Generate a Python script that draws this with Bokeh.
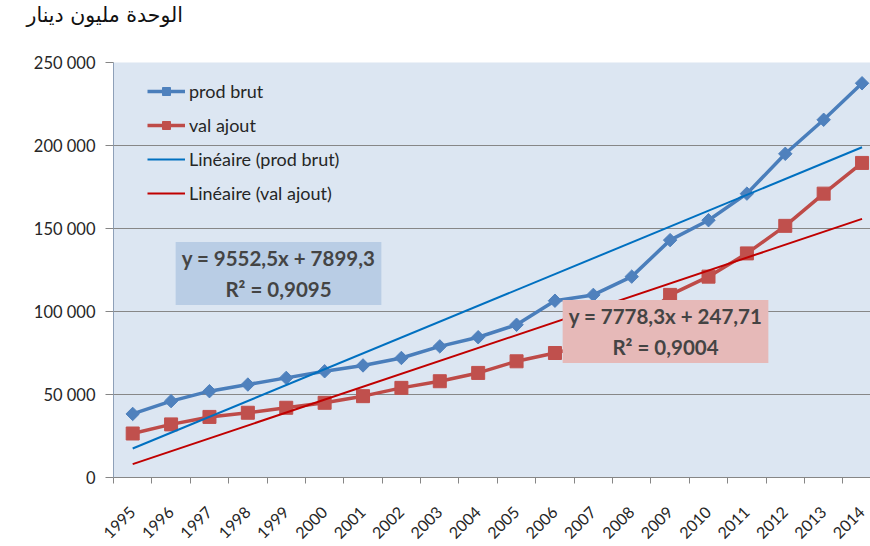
from bokeh.plotting import figure
from bokeh.models import Range1d, FixedTicker, Label, Legend, LegendItem
from bokeh.embed import file_html
from bokeh.resources import INLINE

# ---- data ----
years = list(range(1995, 2015))
prod_brut = [38300, 46000, 52000, 56000, 60000, 64000, 67500, 72000, 79000, 84500,
             92000, 106500, 110000, 121000, 143000, 155000, 171000, 195000, 215500, 237500]
val_ajout = [26500, 32000, 36500, 39000, 42000, 45000, 49000, 54000, 58000, 63000,
             70000, 75000, 80500, 90000, 110000, 121000, 135000, 151600, 171000, 189500]
trend_prod = (9552.5, 7899.3)      # slope, intercept (x = 1..20)
trend_val = (7778.3, 247.71)
y_ticks = [0, 50000, 100000, 150000, 200000, 250000]
y_tick_labels = ["0", "50 000", "100 000", "150 000", "200 000", "250 000"]
series_names = ["prod brut", "val ajout", "Linéaire (prod brut)", "Linéaire (val ajout)"]
eq_prod = "y = 9552,5x + 7899,3\nR² = 0,9095"
eq_val = "y = 7778,3x + 247,71\nR² = 0,9004"
title_text = "الوحدة مليون دينار"

FONT = "Lato"
BLUE, BLUE_M = "#4A7EBB", "#4F81BD"
RED, RED_M = "#BE4B48", "#C0504D"
TBLUE, TRED = "#0070C0", "#C00000"

p = figure(width=870, height=546, output_backend="svg", toolbar_location=None,
           x_range=Range1d(1994.5, 2014.22), y_range=Range1d(0, 250000),
           min_border_left=113, min_border_right=0, min_border_top=62, min_border_bottom=68)
p.background_fill_color = "#DCE6F2"
p.border_fill_color = "white"
p.outline_line_color = None

# title (second blank line lifts it towards the top of the page)
p.title.text = title_text + "\n\u00a0"
p.title.align = "left"
p.title.offset = -87
p.title.standoff = 0
p.title.text_line_height = 1.5
p.title.text_font = "DejaVu Sans"
p.title.text_font_size = "20.5px"
p.title.text_font_style = "normal"
p.title.text_color = "#111111"

# axes
xa = p.xaxis[0]
xa.ticker = FixedTicker(ticks=years, minor_ticks=[y - 0.5 for y in years] + [2014.5])
xa.major_tick_out = 0
xa.major_tick_in = 0
xa.minor_tick_out = 6
xa.minor_tick_in = 0
xa.minor_tick_line_color = "#868686"
xa.axis_line_color = "#868686"
xa.major_label_orientation = 0.785398
xa.major_label_standoff = 26
xa.major_label_text_font = FONT
xa.major_label_text_font_size = "16px"
xa.major_label_text_color = "#262626"

ya = p.yaxis[0]
ya.ticker = FixedTicker(ticks=y_ticks)
ya.major_label_overrides = {t: l for t, l in zip(y_ticks, y_tick_labels)}
ya.major_tick_out = 8
ya.major_tick_in = 0
ya.minor_tick_line_color = None
ya.major_tick_line_color = "#868686"
ya.axis_line_color = "#8EA0B8"
ya.major_label_standoff = 10
ya.major_label_text_font = FONT
ya.major_label_text_font_size = "16.5px"
ya.major_label_text_color = "#262626"

p.xgrid.visible = False
p.ygrid.ticker = FixedTicker(ticks=y_ticks)
p.ygrid.grid_line_color = "#878787"
p.ygrid.grid_line_width = 1.2

# trend lines (from the displayed equations)
xs_idx = [years[0], years[-1]]
tp = [trend_prod[0] * n + trend_prod[1] for n in (1, len(years))]
tv = [trend_val[0] * n + trend_val[1] for n in (1, len(years))]

# series
l1 = p.line(years, prod_brut, line_color=BLUE, line_width=3.5)
m1 = p.scatter(years, prod_brut, marker="square", angle=0.785398, size=9.5,
               fill_color=BLUE_M, line_color=BLUE_M)
l2 = p.line(years, val_ajout, line_color=RED, line_width=3.5)
m2 = p.scatter(years, val_ajout, marker="square", size=13, fill_color=RED_M, line_color=RED_M)
t1 = p.line(xs_idx, tp, line_color=TBLUE, line_width=2)
t2 = p.line(xs_idx, tv, line_color=TRED, line_width=2)

legend = Legend(items=[
    LegendItem(label=series_names[0], renderers=[l1, m1]),
    LegendItem(label=series_names[1], renderers=[l2, m2]),
    LegendItem(label=series_names[2], renderers=[t1]),
    LegendItem(label=series_names[3], renderers=[t2]),
], location=(34, 273))
legend.padding = 0
legend.margin = 0
legend.spacing = 12
legend.glyph_height = 20
legend.label_height = 20
legend.glyph_width = 38
legend.label_standoff = 4
legend.border_line_color = None
legend.background_fill_alpha = 0
legend.label_text_font = FONT
legend.label_text_font_size = "18px"
legend.label_text_color = "#262626"
p.add_layout(legend, "center")

# equation boxes
p.add_layout(Label(x=165, y=204, x_units="screen", y_units="screen", text=eq_prod,
                   text_align="center", text_baseline="middle", text_font=FONT,
                   text_font_style="bold", text_font_size="20.5px", text_line_height=1.3,
                   background_fill_color="#B9CDE5",
                   padding=dict(left=6, right=6, top=4, bottom=4)))
p.add_layout(Label(x=552, y=146, x_units="screen", y_units="screen", text=eq_val,
                   text_align="center", text_baseline="middle", text_font=FONT,
                   text_font_style="bold", text_font_size="20.5px", text_line_height=1.3,
                   background_fill_color="#E6B9B8",
                   padding=dict(left=6, right=6, top=4, bottom=4)))

open("out.html", "w").write(file_html(p, INLINE))
